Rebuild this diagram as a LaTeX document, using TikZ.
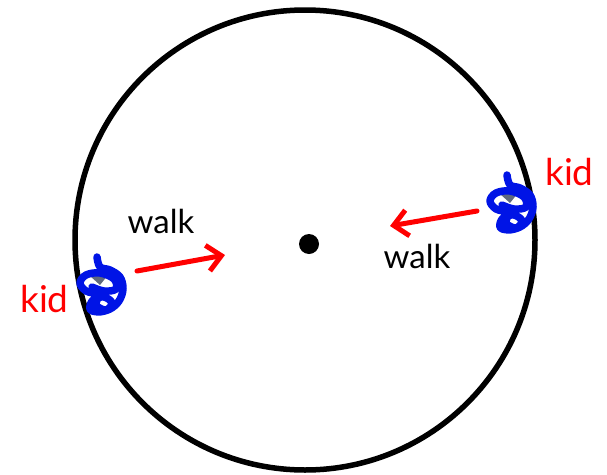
\documentclass[tikz,border=0pt]{standalone}
\usepackage{fontspec}
\setmainfont{Lato}
\usetikzlibrary{arrows.meta}
\definecolor{kidred}{RGB}{255,0,0}
\definecolor{scrblue}{RGB}{0,20,230}
\definecolor{scrgray}{RGB}{95,105,125}
\tikzset{
  ring/.style={line width=5.5pt, draw=black},
  walkarrow/.style={line width=5pt, draw=kidred, -{Straight Barb[length=14pt,width=26pt,line width=5pt]}, line cap=round},
  walklabel/.style={anchor=base, inner sep=0pt, font=\fontsize{33}{35}\selectfont, text=black},
  kidlabel/.style={anchor=base, inner sep=0pt, font=\fontsize{37}{39}\selectfont, text=kidred},
  scribble/.pic={
    \fill[scrgray] (-12,-9) -- (6,-10) -- (-2,0) -- cycle;
    \fill[scrgray] (10,-8) -- (18,-4) -- (15,8) -- cycle;
    \fill[scrgray] (-10,10) -- (-2,16) -- (-12,20) -- cycle;
    \draw[scrblue, line width=7.5pt, line cap=round, line join=round] plot[smooth, tension=0.6] coordinates {(-5,-28) (-2,-18) (8,-15) (18,-8) (21,4) (17,16) (8,24) (-4,27) (-12,24) (-9,15) (2,12) (10,18) (4,25) (-6,20) (-4,10) (-16,6) (-22,-2) (-16,-10) (-2,-12) (12,-6) (14,4) (2,6) (-10,2)};
  }
}
\begin{document}
\begin{tikzpicture}[x=1pt,y=-1pt]
\useasboundingbox (0,0) rectangle (607,474);
\node[circle, ring, minimum size=460pt, inner sep=0pt] (ring) at (305,240) {};
\node[circle, fill=black, minimum size=20pt, inner sep=0pt] (center) at (309,244) {};
\pic (kidL) at (102,285) {scribble};
\pic (kidR) at (512,203) {scribble};
\coordinate (la1) at (137,271);
\coordinate (la2) at (225,255);
\coordinate (ra1) at (477,211);
\coordinate (ra2) at (390,226);
\draw[walkarrow] (la1) -- (la2);
\draw[walkarrow] (ra1) -- (ra2);
\node[walklabel] (walkL) at (161,233) {walk};
\node[walklabel] (walkR) at (417,268) {walk};
\node[kidlabel] (kidLabelL) at (44.5,312) {kid};
\node[kidlabel] (kidLabelR) at (569.5,185) {kid};
\end{tikzpicture}
\end{document}
